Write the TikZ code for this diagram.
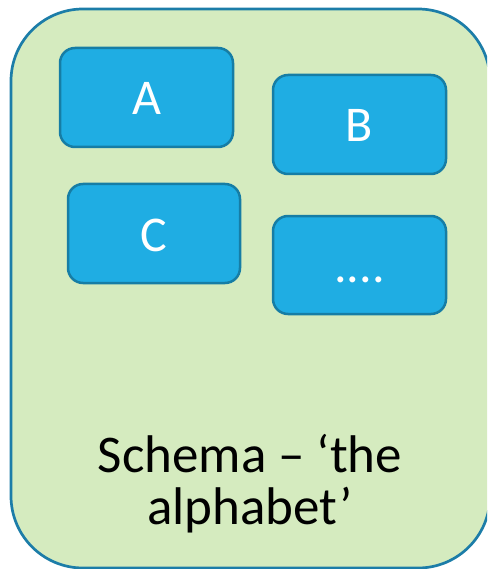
\documentclass[tikz,border=0pt]{standalone}
\usepackage{fontspec}
\setmainfont{Carlito}
\definecolor{panelfill}{HTML}{D5EBBF}
\definecolor{panelline}{HTML}{1C7DA8}
\definecolor{cardfill}{HTML}{1FADE3}
\definecolor{cardline}{HTML}{167DA5}
\begin{document}
\begin{tikzpicture}[x=1pt,y=-1pt,
  panel/.style={fill=panelfill,draw=panelline,line width=2.7pt,rounded corners=72pt},
  card/.style={fill=cardfill,draw=cardline,line width=2.5pt,rounded corners=15pt},
  cardtext/.style={text=white,font=\fontsize{50}{60}\selectfont,anchor=base,inner sep=0pt},
  captiontext/.style={font=\fontsize{53}{52}\selectfont,align=center,anchor=base,inner sep=0pt}]
\useasboundingbox (0,0) rectangle (487,569);
\clip (0,0) rectangle (487,569);
% outer schema panel
\draw[panel] (11,9) rectangle (490,568);
% element cards
\draw[card] (60,48) rectangle (233,147);
\draw[card] (273,75) rectangle (446,174);
\draw[card] (68,184) rectangle (240,283);
\draw[card] (273,216) rectangle (446,314);
\node[cardtext] (a) at (147,115) {A};
\node[cardtext] (b) at (359.5,142) {B};
\node[cardtext] (c) at (154,251) {C};
\node[cardtext] (d) at (359.5,282) {....};
% caption
\node[captiontext] (cap) at (250,472) {Schema – ‘the};
\node[captiontext] (cap2) at (250,524) {alphabet’};
\end{tikzpicture}
\end{document}
